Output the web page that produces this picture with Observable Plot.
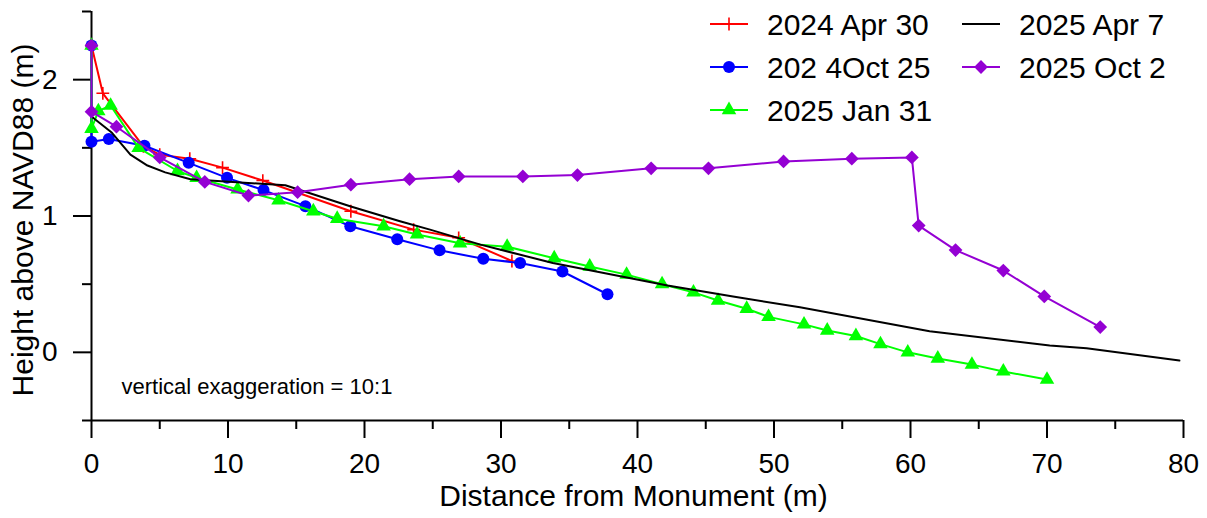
<!DOCTYPE html>
<html>
<head>
<meta charset="utf-8">
<script src="https://cdn.jsdelivr.net/npm/d3@7"></script>
<script src="https://cdn.jsdelivr.net/npm/@observablehq/plot@0.6"></script>
<style>
  html, body { margin: 0; padding: 0; background: #fff; }
  #wrap { position: relative; width: 1207px; height: 518px; font-family: "Liberation Sans", Arial, sans-serif; }
  #wrap svg { display: block; }
  #legend { position: absolute; left: 0; top: 0; }
</style>
</head>
<body>
<div id="wrap"></div>
<script>
// ---- data ----
const seriesNames = ["2024 Apr 30", "202 4Oct 25", "2025 Jan 31", "2025 Apr 7", "2025 Oct 2"];
const seriesColors = ["#ff0000", "#0000ff", "#00ff00", "#000000", "#9400d3"];
const seriesSymbols = ["plus", "circle", "triangle", null, "diamond2"];

const apr2024X = [0, 0.83, 3.8, 5.0, 7.2, 9.6, 12.55, 19.0, 23.6, 26.9, 30.8];
const apr2024Y = [2.25, 1.90, 1.51, 1.45, 1.42, 1.355, 1.26, 1.035, 0.90, 0.84, 0.67];

const oct2024X = [0, 0, 1.27, 3.88, 7.12, 9.93, 12.6, 15.67, 18.96, 22.4, 25.5, 28.7, 31.4, 34.5, 37.8];
const oct2024Y = [2.25, 1.545, 1.565, 1.515, 1.39, 1.28, 1.19, 1.072, 0.925, 0.83, 0.748, 0.686, 0.655, 0.593, 0.426];

const jan2025X = [0, 0, 0.5, 1.4, 3.45, 6.3, 7.7, 10.7, 13.7, 16.25, 18.0, 21.4, 23.85, 27.0, 30.45, 33.9, 36.5, 39.2, 41.8, 44.1, 45.9, 48.0, 49.6, 52.2, 53.9, 56.0, 57.8, 59.8, 62.0, 64.5, 66.8, 70.0];
const jan2025Y = [2.25, 1.64, 1.77, 1.81, 1.50, 1.33, 1.28, 1.195, 1.115, 1.035, 0.98, 0.925, 0.865, 0.80, 0.775, 0.69, 0.63, 0.57, 0.50, 0.44, 0.38, 0.32, 0.26, 0.205, 0.16, 0.12, 0.06, 0.0, -0.045, -0.09, -0.14, -0.2];

const apr2025X = [0, 1.5, 2.85, 4.1, 5.4, 7.25, 14.2, 19.0, 22.6, 24.8, 28.5, 33.8, 42.2, 47.0, 51.9, 61.4, 70.2, 72.9, 79.7];
const apr2025Y = [1.73, 1.61, 1.45, 1.37, 1.32, 1.27, 1.225, 1.07, 0.962, 0.90, 0.79, 0.655, 0.49, 0.41, 0.33, 0.155, 0.05, 0.03, -0.06];

const oct2025X = [0, 0, 1.83, 5.0, 8.3, 11.5, 15.1, 19.0, 23.3, 26.9, 31.6, 35.6, 41.0, 45.2, 50.7, 55.7, 60.1, 60.6, 63.3, 66.8, 69.8, 73.9];
const oct2025Y = [2.25, 1.765, 1.655, 1.43, 1.25, 1.15, 1.175, 1.23, 1.27, 1.29, 1.29, 1.30, 1.35, 1.35, 1.40, 1.42, 1.43, 0.93, 0.75, 0.60, 0.41, 0.185];

const xMajorTicks = [0, 10, 20, 30, 40, 50, 60, 70, 80];
const xMinorTicks = [5, 15, 25, 35, 45, 55, 65, 75];
const yMajorTicks = [0, 1, 2];
const yMinorTicks = [-0.5, 0.5, 1.5, 2.5];

const xTitle = "Distance from Monument (m)";
const yTitle = "Height above NAVD88 (m)";
const note = "vertical exaggeration = 10:1";

// ---- build table ----
const seriesXs = [apr2024X, oct2024X, jan2025X, apr2025X, oct2025X];
const seriesYs = [apr2024Y, oct2024Y, jan2025Y, apr2025Y, oct2025Y];
const tables = seriesNames.map((name, i) => seriesXs[i].map((x, j) => ({series: name, x, y: seriesYs[i][j]})));

const symbolSize = {plus: 4.2, circle: 6, triangle: 5.4, diamond2: 6.2};

const dataMarks = [];
tables.forEach((rows, i) => {
  const color = seriesColors[i];
  dataMarks.push(Plot.line(rows, {x: "x", y: "y", stroke: color, strokeWidth: 2}));
  const sym = seriesSymbols[i];
  if (!sym) return;
  if (sym === "plus") {
    dataMarks.push(Plot.dot(rows, {x: "x", y: "y", symbol: "plus", r: symbolSize.plus, stroke: color, strokeWidth: 1.6, fill: "none"}));
  } else {
    dataMarks.push(Plot.dot(rows, {x: "x", y: "y", symbol: sym, r: symbolSize[sym], fill: color, stroke: "none"}));
  }
});

const chart = Plot.plot({
  width: 1207,
  height: 518,
  marginLeft: 91,
  marginRight: 24,
  marginTop: 11,
  marginBottom: 98,
  style: {fontFamily: "'Liberation Sans', Arial, sans-serif", background: "#fff", color: "#000", overflow: "visible"},
  x: {domain: [0, 80]},
  y: {domain: [-0.5, 2.5]},
  marks: [
    Plot.ruleY([-0.5], {stroke: "#000", strokeWidth: 2}),
    Plot.ruleX([0], {stroke: "#000", strokeWidth: 2}),
    Plot.axisX({ticks: xMajorTicks, tickSize: 18, tickPadding: 15, tickFormat: d => String(d), fontSize: 28, label: null, strokeWidth: 2, stroke: "#000", fill: "#000"}),
    Plot.axisX({ticks: xMinorTicks, tickSize: 9, tickFormat: () => "", label: null, strokeWidth: 2, stroke: "#000"}),
    Plot.axisY({ticks: yMajorTicks, tickSize: 18, tickPadding: 16, tickFormat: d => String(d), fontSize: 28, label: null, strokeWidth: 2, stroke: "#000", fill: "#000"}),
    Plot.axisY({ticks: yMinorTicks, tickSize: 9, tickFormat: () => "", label: null, strokeWidth: 2, stroke: "#000"}),
    Plot.text([xTitle], {frameAnchor: "bottom", text: d => d, textAnchor: "middle", lineAnchor: "bottom", dy: 85, dx: -4, fontSize: 30, fill: "#000"}),
    Plot.text([yTitle], {frameAnchor: "left", text: d => d, textAnchor: "middle", rotate: -90, lineAnchor: "bottom", dx: -59, dy: 4, fontSize: 30, fill: "#000"}),
    Plot.text([note], {frameAnchor: "bottom-left", text: d => d, textAnchor: "start", lineAnchor: "bottom", dx: 30, dy: -27, fontSize: 22, fill: "#000"}),
    ...dataMarks
  ]
});

const wrap = document.getElementById("wrap");
wrap.appendChild(chart);

// ---- legend (overlay) ----
const leg = d3.select(wrap).append("svg")
  .attr("id", "legend").attr("width", 1207).attr("height", 140)
  .style("position", "absolute").style("left", "0px").style("top", "0px")
  .style("font-family", "'Liberation Sans', Arial, sans-serif");
const colX = [710, 962];
const rowY = [24, 67, 110];
const order = [[0, 0], [0, 1], [0, 2], [1, 0], [1, 1]];
seriesNames.forEach((name, i) => {
  const [c, r] = order[i];
  const x0 = colX[c], y0 = rowY[r];
  const g = leg.append("g");
  g.append("line").attr("x1", x0).attr("x2", x0 + 38).attr("y1", y0).attr("y2", y0)
    .attr("stroke", seriesColors[i]).attr("stroke-width", 2);
  const sym = seriesSymbols[i];
  if (sym) {
    const type = {plus: d3.symbolPlus, circle: d3.symbolCircle, triangle: d3.symbolTriangle, diamond2: d3.symbolDiamond2}[sym];
    const rr = symbolSize[sym];
    const p = g.append("path").attr("d", d3.symbol(type, Math.PI * rr * rr)())
      .attr("transform", `translate(${x0 + 19},${y0})`);
    if (sym === "plus") p.attr("fill", "none").attr("stroke", seriesColors[i]).attr("stroke-width", 1.6);
    else p.attr("fill", seriesColors[i]);
  }
  g.append("text").attr("x", x0 + 57).attr("y", y0 + 11).attr("font-size", 30).attr("fill", "#000").text(name);
});
</script>
</body>
</html>
